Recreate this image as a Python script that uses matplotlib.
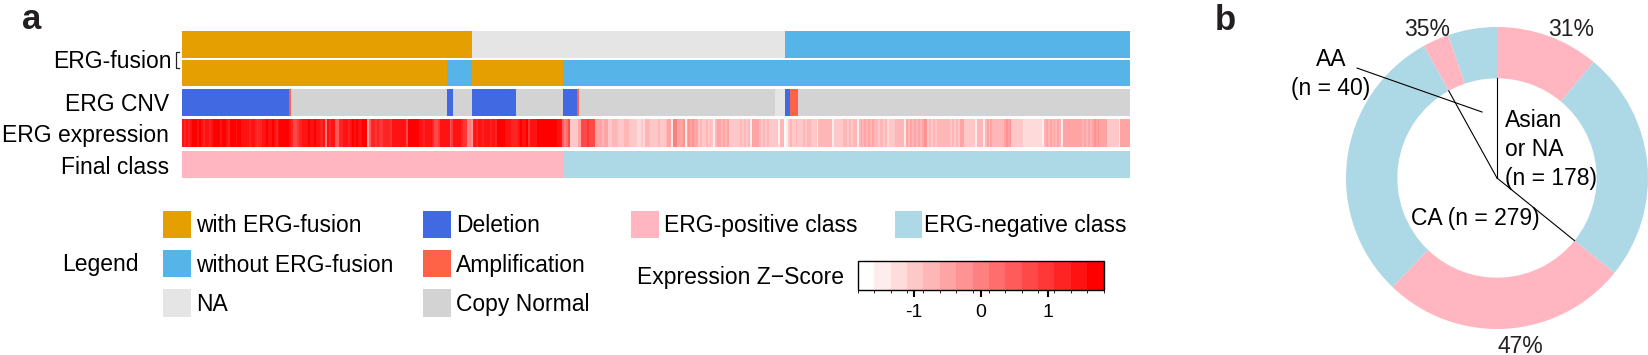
import numpy as np
import matplotlib
matplotlib.use("Agg")
import matplotlib as mpl
import matplotlib.pyplot as plt
from matplotlib.colors import ListedColormap, BoundaryNorm, to_rgb
from matplotlib.patches import Rectangle

plt.rcParams['font.family'] = ['Liberation Sans', 'DejaVu Sans']

# ---------------- data ----------------
fusion_raw_cats = ["with ERG-fusion", "NA", "without ERG-fusion"]
fusion_raw_counts = [152, 164, 181]
fusion_final_cats = ["with ERG-fusion", "without ERG-fusion", "with ERG-fusion", "without ERG-fusion"]
fusion_final_counts = [139, 13, 48, 297]
cnv_cats = ["Deletion", "Amplification", "Copy Normal", "Deletion", "Copy Normal", "Deletion",
            "Copy Normal", "Deletion", "Amplification", "Copy Normal", "NA", "Deletion",
            "Amplification", "Copy Normal"]
cnv_counts = [56, 1, 82, 3, 10, 23, 25, 7, 1, 103, 5, 3, 4, 174]
class_cats = ["ERG-positive class", "ERG-negative class"]
class_counts = [200, 297]

# colour-bin index (0 = lowest, e = highest) of each sample's ERG expression Z-score
expr_levels = (
    "dcdcd" "eeede" "dcddcd" "eeeedee" "dc" "eeedeed" "dddcdd" "cbcc" "ddeddedcd" "eeeee"
    "dc" "aab" "ccd" "ddedded" "dccd" "7" "dcdd" "99" "cc"
    "ddd" "c" "dededdee" "e" "5" "9cc" "bcbbc" "cccb" "ddddddd" "a" "eeeeee" "ddcddddc"
    "aab" "ddddd" "9b" "dddd" "cbb" "776" "cdcddcdddcddc"
    "eeee" "ddd" "cccc" "dedde" "b" "dddd" "eeeeeeeeee" "ddd" "9"
    "78" "a33" "335" "5aaabaa" "a5555455" "334" "443" "334" "443" "333" "2232" "4443" "333"
    "43" "33" "455" "1" "77" "555" "6" "1" "565655" "34334343" "1" "4554545" "333" "333"
    "43434" "1" "5555" "434343" "3333" "1" "44" "01" "34334333434433"
    "3" "1" "4" "4" "4444" "4" "1" "33333" "4434344" "1" "45454545" "4434434" "2" "333"
    "44444" "1" "545454545" "66" "343434" "444444" "34343" "55" "33333"
    "3" "1" "444" "1" "45454" "44444" "5656" "333333" "2222222222" "1" "454545454" "1"
    "5555555555" "454545" "6565" "555" "333333" "1" "55555"
)
zscore_range = (-1.83, 1.82)
zscore_bins = 15
zscore_ticks = [-1, 0, 1]

groups = ["Asian\nor NA", "CA", "AA"]
group_n = [178, 279, 40]
group_pos_pct = [31, 47, 35]

# ---------------- styles ----------------
fusion_colors = {"with ERG-fusion": "#E69F00", "without ERG-fusion": "#56B4E9", "NA": "#E5E5E5"}
cnv_colors = {"Deletion": "#4169E1", "Amplification": "#FF6347", "Copy Normal": "#D3D3D3", "NA": "#E5E5E5"}
class_colors = {"ERG-positive class": "#FFB6C1", "ERG-negative class": "#ADD8E6"}
FS = 16.5

W, H = 1649, 355
fig = plt.figure(figsize=(W / 100, H / 100), dpi=100)


def runs_to_rgb(cats, counts, cmap):
    seq = np.repeat(np.array(cats, dtype=object), counts)
    return np.array([[to_rgb(cmap[c]) for c in seq]])


# ---------------- panel a heatmap ----------------
N = len(expr_levels)
ax = fig.add_axes([182 / W, 1 - 177.7 / H, 948 / W, 147.2 / H])

rows = [
    (runs_to_rgb(fusion_raw_cats, fusion_raw_counts, fusion_colors), 0, 27.3),
    (runs_to_rgb(fusion_final_cats, fusion_final_counts, fusion_colors), 29.5, 55.5),
    (runs_to_rgb(cnv_cats, cnv_counts, cnv_colors), 58.9, 85.2),
    (runs_to_rgb(class_cats, class_counts, class_colors), 120.9, 147.2),
]
for img, y0, y1 in rows:
    ax.imshow(img, extent=(0, N, y1, y0), aspect='auto', interpolation='nearest')

# expression row
zmin, zmax = zscore_range
edges = np.linspace(zmin, zmax, zscore_bins + 1)
step = edges[1] - edges[0]
lv = np.arange(zscore_bins)
expr_cmap = ListedColormap([(1.0, 1 - l / (zscore_bins - 1), 1 - l / (zscore_bins - 1)) for l in lv])
expr_norm = BoundaryNorm(edges, expr_cmap.N)
levels = np.array([int(c, 16) for c in expr_levels])
zvals = zmin + (levels + 0.5) * step
ax.imshow(zvals[None, :], cmap=expr_cmap, norm=expr_norm, extent=(0, N, 116.7, 89.4),
          aspect='auto', interpolation='nearest')

ax.set_xlim(0, N)
ax.set_ylim(147.2, 0)
ax.axis('off')

trans = mpl.transforms.blended_transform_factory(ax.transAxes, ax.transData)
ax.text(-0.0105, 30.5, "ERG-fusion", ha='right', va='center', fontsize=FS, transform=trans)
bx0, bx1 = -0.0066, -0.0035
ax.plot([bx1, bx0, bx0, bx1], [21.0, 21.0, 37.0, 37.0], transform=trans, clip_on=False,
        color='#222222', lw=0.9)
for txt, yc in [("ERG CNV", 74.0), ("ERG expression", 105.0), ("Final class", 136.5)]:
    ax.text(-0.0137, yc, txt, ha='right', va='center', fontsize=FS, transform=trans)

# ---------------- legend ----------------
lax = fig.add_axes([0, 0, 1, 1])
lax.set_xlim(0, W)
lax.set_ylim(H, 0)
lax.axis('off')
sw = 27.4
row_tops = [210.7, 250.0, 289.3]
legend_cols = [
    (163.3, 196.0, ["with ERG-fusion", "without ERG-fusion", "NA"], fusion_colors),
    (423.3, 456.0, ["Deletion", "Amplification", "Copy Normal"], cnv_colors),
    (631.4, 663.6, ["ERG-positive class"], class_colors),
    (895.0, 924.0, ["ERG-negative class"], class_colors),
]
for sx, tx, labels, cmap in legend_cols:
    for lab, yt in zip(labels, row_tops):
        lax.add_patch(Rectangle((sx, yt), sw, sw, facecolor=cmap[lab], edgecolor='none'))
        lax.text(tx, yt + sw / 2 + 1.5, lab, ha='left', va='center', fontsize=FS)
lax.text(62, 265, "Legend", ha='left', va='center', fontsize=FS)
lax.text(637.5, 277.5, "Expression Z\u2212Score", ha='left', va='center', fontsize=FS)

# colour key
cax = fig.add_axes([858 / W, 1 - 290 / H, 245.6 / W, 29.5 / H])
cb = mpl.colorbar.ColorbarBase(cax, cmap=expr_cmap, norm=expr_norm, orientation='horizontal',
                               ticks=zscore_ticks)
cb.set_ticklabels([f"{t:d}" for t in zscore_ticks])
cb.outline.set_linewidth(1.0)
cax.tick_params(axis='x', length=5, width=1.5, labelsize=14, pad=5)

# ---------------- panel b donut ----------------
R = 151
dax = fig.add_axes([(1497 - R) / W, (H - 178 - R) / H, 2 * R / W, 2 * R / H])
sizes, colors = [], []
pos_counts = [round(n * p / 100) for n, p in zip(group_n, group_pos_pct)]
for n, pc in zip(group_n, pos_counts):
    sizes += [pc, n - pc]
    colors += [class_colors["ERG-positive class"], class_colors["ERG-negative class"]]
ring = 0.34
dax.pie(sizes, colors=colors, startangle=90, counterclock=False, radius=1,
        wedgeprops=dict(width=ring, linewidth=0))
dax.set_xlim(-1, 1)
dax.set_ylim(-1, 1)
dax.set_aspect('equal')
dax.axis('off')

total = sum(group_n)
r_in = 1 - ring
starts = np.cumsum([0] + group_n[:-1]) / total * 360
for a in starts:
    th = np.deg2rad(90 - a)
    dax.plot([0, r_in * np.cos(th)], [0, r_in * np.sin(th)], color='k', lw=0.8)
dax.plot([-0.927, -0.099], [0.728, 0.437], color='k', lw=0.8, clip_on=False)

pct_pos = [(0.49, 0.985), (0.152, -1.115), (-0.464, 0.985)]
for (x, y), p in zip(pct_pos, group_pos_pct):
    dax.text(x, y, f"{p}%", ha='center', va='center', fontsize=FS, color='#231f20')

name_specs = [((0.053, 0.19), 'left', "\n"), ((-0.146, -0.268), 'center', " "), ((-1.10, 0.69), 'center', "\n")]
for (xy, ha, sep), g, n in zip(name_specs, groups, group_n):
    dax.text(xy[0], xy[1], f"{g}{sep}(n = {n})", ha=ha, va='center', fontsize=FS,
             linespacing=1.35, multialignment=ha)

fig.text(22 / W, 1 - 29 / H, "a", fontsize=25, fontweight='bold', va='baseline', color='#231f20')
fig.text(1215 / W, 1 - 30 / H, "b", fontsize=25, fontweight='bold', va='baseline', color='#231f20')

fig.savefig("out.png", dpi=100)
